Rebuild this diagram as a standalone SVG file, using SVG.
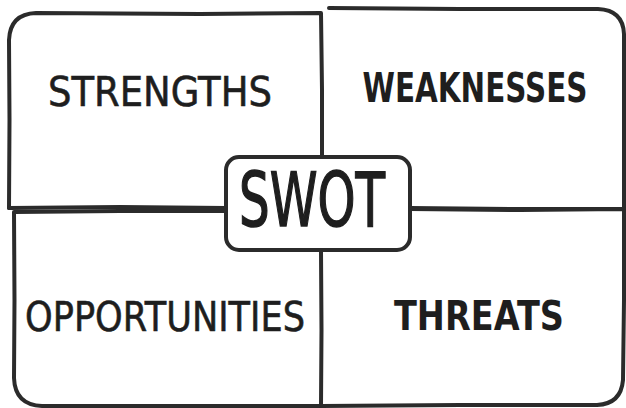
<svg xmlns="http://www.w3.org/2000/svg" width="626" height="408" viewBox="0 0 626 408">
  <style>
    .frame { fill: none; stroke: #2b2b2b; stroke-width: 4; stroke-linecap: round; stroke-linejoin: round; }
    .label { font-family: "DejaVu Sans", "Liberation Sans", sans-serif; fill: #1e1e1e; text-anchor: middle; }
    .quad { font-size: 40px; stroke: #1e1e1e; stroke-width: 0.6; }
    .heavy { font-weight: bold; stroke-width: 0; }
    .hub { font-size: 75px; stroke: #1e1e1e; stroke-width: 1.6; }
  </style>
  <rect width="626" height="408" fill="#ffffff"/>

  <!-- Strengths: top-left quadrant -->
  <g id="strengths">
    <path class="frame" d="M9,208 L9.5,120 L9,40 Q10,14 36,13 L200,14 L321,13 L322,90 L322,157"/>
    <path class="frame" d="M9,208 L120,207 L226,208"/>
    <text class="label quad" x="160" y="106" textLength="224" lengthAdjust="spacingAndGlyphs">STRENGTHS</text>
  </g>

  <!-- Weaknesses: top-right quadrant -->
  <g id="weaknesses">
    <path class="frame" d="M329,8 L460,9 L598,9 Q623,10 624,34 L624,120 L624,208"/>
    <path class="frame" d="M410,208 L520,209 L624,209"/>
    <text class="label quad heavy" transform="translate(475,102) scale(1,1.2)" style="font-size:34px" textLength="225" lengthAdjust="spacingAndGlyphs">WEAKNESSES</text>
  </g>

  <!-- Opportunities: bottom-left quadrant -->
  <g id="opportunities">
    <path class="frame" d="M226,211 L120,211 L14,212 L14.5,300 L14,378 Q15,405 42,406 L180,406 L321,406"/>
    <path class="frame" d="M321,250 L321.5,330 L321,406"/>
    <text class="label quad" x="165" y="331" textLength="280" lengthAdjust="spacingAndGlyphs">OPPORTUNITIES</text>
  </g>

  <!-- Threats: bottom-right quadrant -->
  <g id="threats">
    <path class="frame" d="M410,209 L520,210 L624,209 L624,300 L623,380 Q621,404 597,405 L460,405 L321,406"/>
    <text class="label quad heavy" x="479" y="330" textLength="170" lengthAdjust="spacingAndGlyphs">THREATS</text>
  </g>

  <!-- Centre tile -->
  <g id="swot">
    <rect class="frame" x="226" y="157" width="184" height="93" rx="13" ry="13"/>
    <text class="label hub" x="312" y="226" textLength="146" lengthAdjust="spacingAndGlyphs">SWOT</text>
  </g>
</svg>
